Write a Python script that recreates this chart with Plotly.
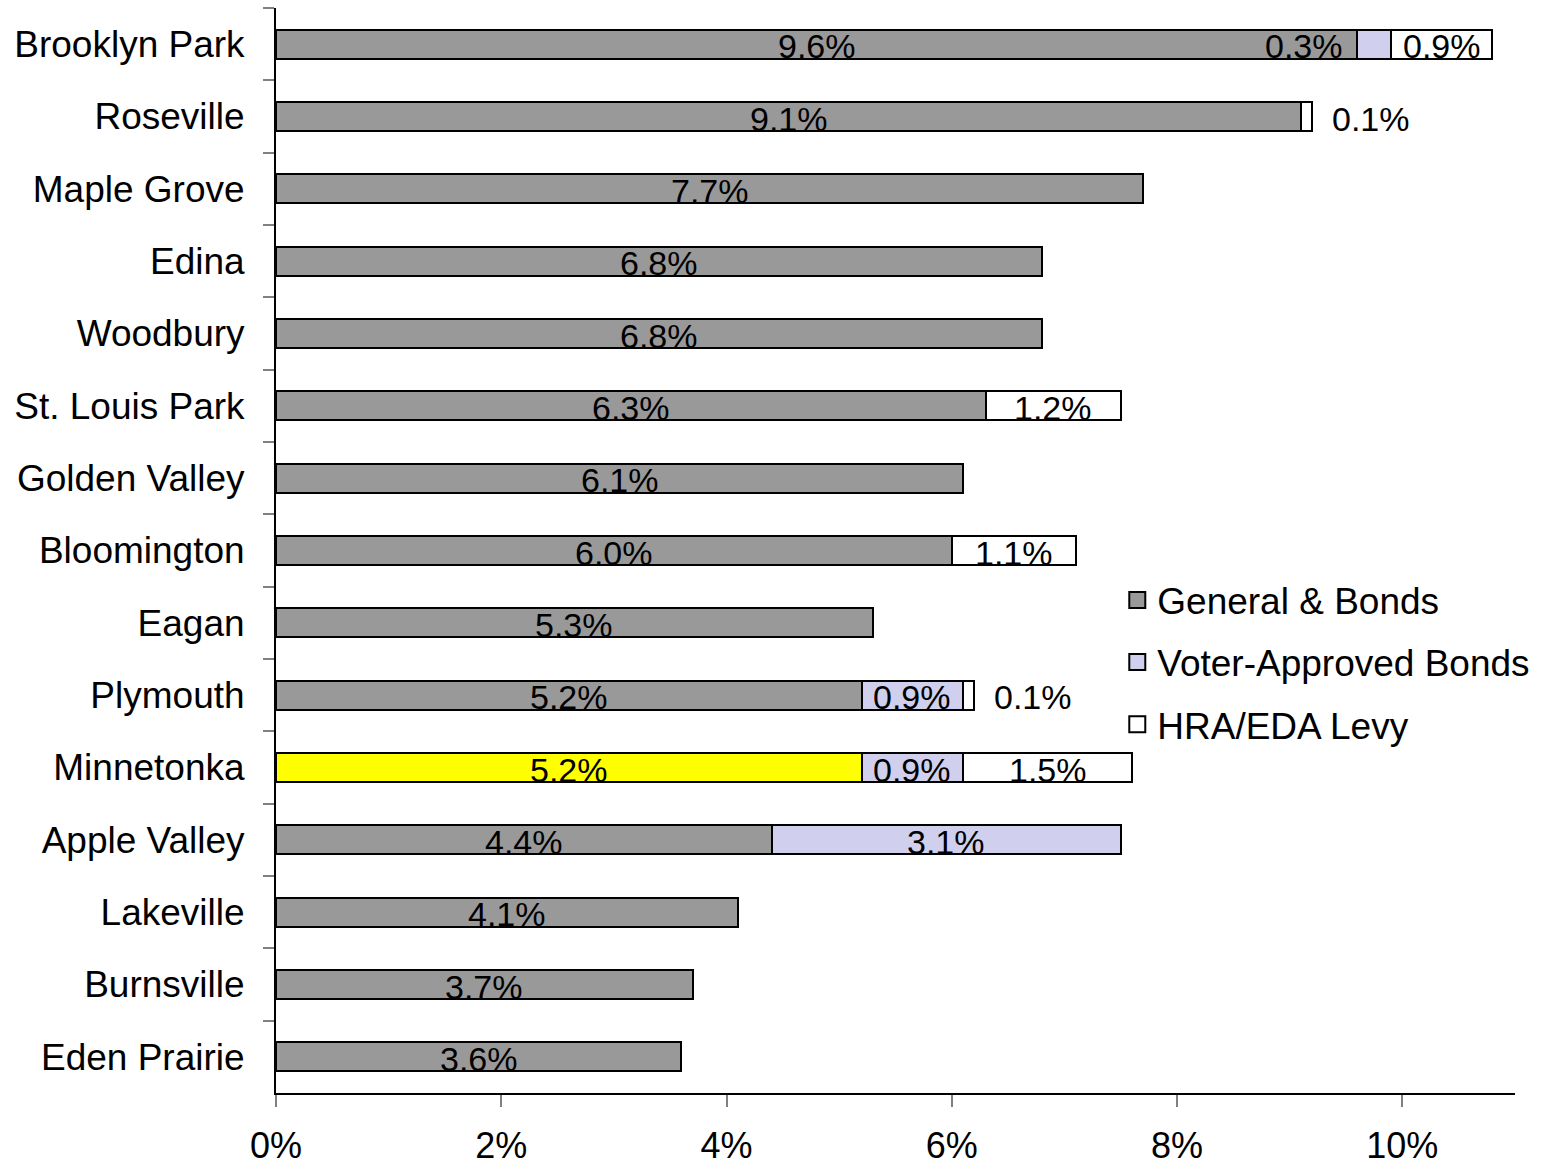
import plotly.graph_objects as go

cities = ["Brooklyn Park", "Roseville", "Maple Grove", "Edina", "Woodbury",
          "St. Louis Park", "Golden Valley", "Bloomington", "Eagan", "Plymouth",
          "Minnetonka", "Apple Valley", "Lakeville", "Burnsville", "Eden Prairie"]
general = [9.6, 9.1, 7.7, 6.8, 6.8, 6.3, 6.1, 6.0, 5.3, 5.2, 5.2, 4.4, 4.1, 3.7, 3.6]
voter = [0.3, None, None, None, None, None, None, None, None, 0.9, 0.9, 3.1, None, None, None]
hra = [0.9, 0.1, None, None, None, 1.2, None, 1.1, None, 0.1, 1.5, None, None, None, None]
highlight = "Minnetonka"

FONT = "Arial, Liberation Sans, sans-serif"
GRAY = "#999999"
LAV = "#D0D0EE"
YEL = "#FFFF00"
WHITE = "#FFFFFF"

gen_colors = [YEL if c == highlight else GRAY for c in cities]

fig = go.Figure()
line = dict(color="black", width=2)
fig.add_trace(go.Bar(y=cities, x=general, orientation="h", width=0.4,
                     marker=dict(color=gen_colors, line=line), showlegend=False,
                     hoverinfo="x+y"))
fig.add_trace(go.Bar(y=cities, x=voter, orientation="h", width=0.4,
                     marker=dict(color=LAV, line=line), showlegend=False))
fig.add_trace(go.Bar(y=cities, x=hra, orientation="h", width=0.4,
                     marker=dict(color=WHITE, line=line), showlegend=False))

# legend entries
for name, col in [("General & Bonds", GRAY), ("Voter-Approved Bonds", LAV), ("HRA/EDA Levy", WHITE)]:
    fig.add_trace(go.Scatter(x=[None], y=[None], mode="markers", name=name,
                             legendgroup=name,
                             marker=dict(symbol="square", size=16, color=col,
                                         line=dict(color="black", width=2))))

ann = []
lab_font = dict(family=FONT, size=34, color="black")
for i, c in enumerate(cities):
    g = general[i]
    v = voter[i] or 0
    h = hra[i] or 0
    ann.append(dict(x=g / 2, y=c, text=f"{g:.1f}%", showarrow=False,
                    xanchor="center", yanchor="middle", font=lab_font, yshift=-2))
    if voter[i] is not None:
        if voter[i] < 0.5:
            ann.append(dict(x=g, y=c, text=f"{voter[i]:.1f}%", showarrow=False,
                            xanchor="right", yanchor="middle", xshift=-12, font=lab_font, yshift=-2))
        else:
            ann.append(dict(x=g + v / 2, y=c, text=f"{voter[i]:.1f}%", showarrow=False,
                            xanchor="center", yanchor="middle", font=lab_font, yshift=-2))
    if hra[i] is not None:
        if hra[i] < 0.5:
            ann.append(dict(x=g + v + h, y=c, text=f"{hra[i]:.1f}%", showarrow=False,
                            xanchor="left", yanchor="middle", xshift=18, font=lab_font, yshift=-2))
        else:
            ann.append(dict(x=g + v + h / 2, y=c, text=f"{hra[i]:.1f}%", showarrow=False,
                            xanchor="center", yanchor="middle", font=lab_font, yshift=-2))

fig.update_layout(
    width=1543, height=1165,
    margin=dict(l=276, r=28, t=8, b=72, autoexpand=False),
    paper_bgcolor="white", plot_bgcolor="white",
    barmode="stack",
    font=dict(family=FONT, size=36, color="black"),
    annotations=ann,
    legend=dict(x=0.679, y=0.4826, xanchor="left", yanchor="top",
                font=dict(family=FONT, size=37, color="black"),
                tracegroupgap=11, bgcolor="rgba(0,0,0,0)"),
    xaxis=dict(range=[0, 11], dtick=2, tick0=0, ticksuffix="%", showgrid=False,
               zeroline=False, showline=True, linecolor="black", linewidth=2,
               ticks="outside", ticklen=12, tickcolor="#808080", tickwidth=1.5,
               ticklabelstandoff=8, tickfont=dict(size=36), automargin=False),
    yaxis=dict(categoryorder="array", categoryarray=cities, autorange="reversed",
               showgrid=False, zeroline=False, showline=True, linecolor="black",
               linewidth=2, ticks="outside", ticklen=11, tickcolor="#808080",
               tickwidth=1.5, tickson="boundaries", ticklabelstandoff=22,
               tickfont=dict(size=37), automargin=False),
)

fig.write_html("out.html")
